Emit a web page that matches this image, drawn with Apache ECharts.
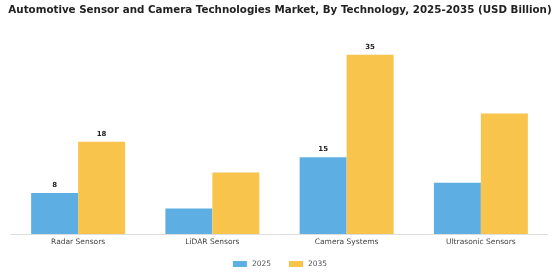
<!DOCTYPE html>
<html lang="en">
<head>
    <meta charset="UTF-8">
    <title>Automotive Sensor and Camera Technologies Market</title>
    <style>
        html, body { margin: 0; padding: 0; background: #fff; }
    </style>
</head>
<body>
<div class="main" style="width: 560px;height:280px;"></div>
<script src="https://cdn.jsdelivr.net/npm/echarts@6/dist/echarts.min.js"></script>
<script>
    // data
    var categories = ['Radar Sensors', 'LiDAR Sensors', 'Camera Systems', 'Ultrasonic Sensors'];
    var values2025 = [8, 5, 15, 10];
    var values2035 = [18, 12, 35, 23.5];
    // only these categories carry value labels in the original
    var labelled = ['Radar Sensors', 'Camera Systems'];

    var main = document.getElementsByClassName('main')[0];
    var myChart = echarts.init(main);

    function toData(arr) {
        return arr.map(function (v, i) {
            return {
                value: v,
                label: { show: labelled.indexOf(categories[i]) >= 0 }
            };
        });
    }

    var barLabel = {
        position: 'top',
        distance: 4,
        color: '#222',
        fontSize: 7,
        fontWeight: 'bold',
        fontFamily: 'DejaVu Sans'
    };

    var option = {
        animation: false,
        title: {
            text: 'Automotive Sensor and Camera Technologies Market, By Technology, 2025-2035 (USD Billion)',
            left: 'center',
            top: 0,
            padding: [5, 5],
            textStyle: {
                fontFamily: 'DejaVu Sans',
                fontSize: 10.3,
                fontWeight: 'bold',
                color: '#222'
            }
        },
        legend: {
            bottom: 7,
            left: 'center',
            itemWidth: 14,
            itemHeight: 6,
            itemGap: 18,
            icon: 'rect',
            textStyle: { fontFamily: 'DejaVu Sans', fontSize: 7.5, color: '#555' },
            data: ['2025', '2035']
        },
        grid: { left: 11, right: 12, top: 29, bottom: 46 },
        xAxis: {
            type: 'category',
            data: categories,
            axisLine: { lineStyle: { color: '#ddd' } },
            axisTick: { show: false },
            axisLabel: { fontFamily: 'DejaVu Sans', fontSize: 7.5, color: '#444', margin: 4 }
        },
        yAxis: {
            type: 'value',
            min: 0,
            max: 40,
            show: false,
            splitLine: { show: false }
        },
        series: [
            {
                name: '2025',
                type: 'bar',
                barGap: '0%',
                barCategoryGap: '30%',
                itemStyle: { color: '#5DAFE3' },
                label: barLabel,
                data: toData(values2025)
            },
            {
                name: '2035',
                type: 'bar',
                barGap: '0%',
                barCategoryGap: '30%',
                itemStyle: { color: '#F8C44C' },
                label: barLabel,
                data: toData(values2035)
            }
        ]
    };

    myChart.setOption(option);
</script>
</body>
</html>
